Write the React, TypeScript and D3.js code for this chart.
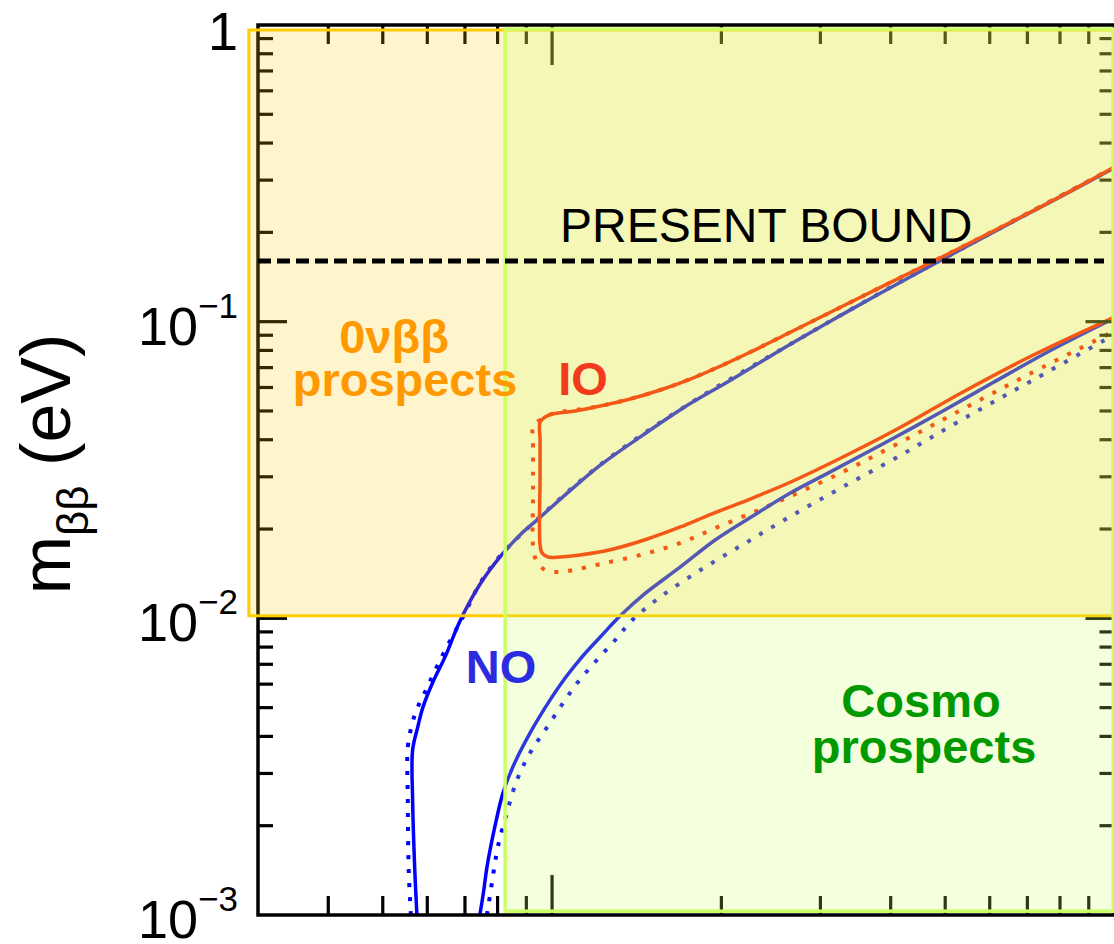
import * as d3 from "d3"

type Pt = [number, number]

// axis domains (x: sum of neutrino masses, y: m_bb), both in eV
const sumDomain: [number, number] = [0.03, 1]
const mbbDomain: [number, number] = [0.001, 1]
const presentBound = 0.16
const boundSpan: [number, number] = [0.03, 0.958]

// shaded prospect regions [xmin, xmax, ymin, ymax]
const bbProspects = [0.0289, 0.995, 0.0102, 0.962]
const cosmoProspects = [0.0825, 0.995, 0.00103, 0.969]

const yLabelValues = [1, 0.1, 0.01, 0.001]
const yLabelExps = ["", "−1", "−2", "−3"]

// normal ordering, solid (upper edge incl. left boundary)
const noUpperSolid: Pt[] = [
  [0.0575, 0.001], [0.057, 0.00142], [0.0565, 0.00244], [0.0565, 0.0036], [0.0577, 0.0043],
  [0.0589, 0.005], [0.0614, 0.0061], [0.0645, 0.0074], [0.0686, 0.0098], [0.0744, 0.013],
  [0.0808, 0.0161], [0.0877, 0.0191], [0.0952, 0.0219], [0.108, 0.0271], [0.122, 0.0329],
  [0.1435, 0.0409], [0.171, 0.0512], [0.208, 0.0636], [0.255, 0.0803], [0.313, 0.1005],
  [0.384, 0.125], [0.482, 0.158], [0.629, 0.207], [0.805, 0.265], [1.0, 0.33],
]
const noUpperDotted: Pt[] = [
  [0.0561, 0.001], [0.0556, 0.00142], [0.0554, 0.00244], [0.0554, 0.00368], [0.0565, 0.00447],
  [0.0577, 0.00502], [0.0599, 0.00582], [0.0626, 0.00696], [0.0664, 0.00865], [0.07, 0.0104],
  [0.0744, 0.0131], [0.0808, 0.0162], [0.0952, 0.022], [0.122, 0.033], [0.171, 0.0513],
  [0.255, 0.0804], [0.384, 0.1252], [0.629, 0.2075], [1.0, 0.3305],
]
const noLowerSolid: Pt[] = [
  [0.0744, 0.001], [0.0756, 0.00121], [0.0766, 0.00145], [0.0791, 0.00198], [0.0818, 0.00258],
  [0.0852, 0.00316], [0.0914, 0.00411], [0.0992, 0.00531], [0.1055, 0.00629], [0.1122, 0.00729],
  [0.1218, 0.00865], [0.1322, 0.0102], [0.1453, 0.012], [0.1691, 0.0149], [0.1952, 0.0184],
  [0.2263, 0.022], [0.2657, 0.0265], [0.3118, 0.0311], [0.3843, 0.0384], [0.4917, 0.0496],
  [0.6061, 0.0621], [0.7723, 0.0803], [1.0, 0.1029],
]
const noLowerDotted: Pt[] = [
  [0.0766, 0.001], [0.0778, 0.00121], [0.0788, 0.00142], [0.0801, 0.0017], [0.0831, 0.00221],
  [0.0866, 0.00285], [0.0914, 0.00352], [0.098, 0.0043], [0.1046, 0.00518], [0.1108, 0.00605],
  [0.1193, 0.00713], [0.1295, 0.00845], [0.1389, 0.00987], [0.1557, 0.0118], [0.1836, 0.01455],
  [0.2208, 0.01795], [0.2657, 0.0221], [0.3262, 0.0275], [0.4172, 0.0355], [0.5337, 0.0466],
  [0.7112, 0.0631], [1.0, 0.0905],
]

// inverted ordering: upper edge (left->right) and lower edge (from top-left corner down, then right)
const ioUpperSolid: Pt[] = [
  [0.0952, 0.0459], [0.0972, 0.0477], [0.1, 0.04885], [0.1099, 0.05001], [0.1218, 0.05196],
  [0.1377, 0.05487], [0.1557, 0.05885], [0.1762, 0.06405], [0.1993, 0.07087], [0.2254, 0.07901],
  [0.2657, 0.09228], [0.3236, 0.1112], [0.3843, 0.1308], [0.4817, 0.1614], [0.6289, 0.2085],
  [0.8045, 0.2653], [1.0, 0.3321],
]
const ioLowerSolid: Pt[] = [
  [0.0952, 0.04], [0.0952, 0.03], [0.0952, 0.0177], [0.096, 0.0166], [0.0984, 0.0161],
  [0.1033, 0.0161], [0.1122, 0.01635], [0.1285, 0.01713], [0.1477, 0.01851], [0.1691, 0.02032],
  [0.192, 0.02247], [0.2227, 0.02505], [0.2657, 0.02881], [0.3236, 0.03443], [0.4172, 0.04414],
  [0.5337, 0.0575], [0.7112, 0.0766], [1.0, 0.1037],
]
const ioUpperDotted: Pt[] = [
  [0.0925, 0.0448], [0.0952, 0.0466], [0.1, 0.04885], [0.1218, 0.05196], [0.1557, 0.05885],
  [0.1993, 0.07087], [0.2657, 0.09228], [0.3843, 0.1308], [0.6289, 0.2085], [1.0, 0.3321],
]
const ioLowerDotted: Pt[] = [
  [0.0925, 0.04], [0.0925, 0.03], [0.0925, 0.025], [0.0925, 0.0177], [0.0937, 0.0157],
  [0.0972, 0.01455], [0.1025, 0.01433], [0.109, 0.01455], [0.1218, 0.01524], [0.1435, 0.01635],
  [0.1691, 0.01795], [0.1968, 0.0203], [0.2377, 0.02355], [0.3236, 0.0307], [0.4172, 0.0393],
  [0.5337, 0.0504], [0.7112, 0.0671], [1.0, 0.093],
]

const FONT = "'Liberation Sans', Arial, Helvetica, sans-serif"

export default function App() {
  const width = 1114
  const height = 944
  const left = 258
  const right = 1114.5
  const top = 25
  const bottom = 915

  const x = d3.scaleLog().domain(sumDomain).range([left, right])
  const y = d3.scaleLog().domain(mbbDomain).range([bottom, top])
  const line = d3
    .line<Pt>()
    .x((d) => x(d[0]))
    .y((d) => y(d[1]))
    .curve(d3.curveCatmullRom.alpha(0.5))

  const isMajor = (v: number) => Math.abs(Math.log10(v) - Math.round(Math.log10(v))) < 1e-6
  const xTicks = x.ticks().filter((v) => v > sumDomain[0] * 1.001 && v < sumDomain[1] * 0.999)
  const yTicks = y.ticks().filter((v) => v > mbbDomain[0] * 1.001 && v < mbbDomain[1] * 0.999)

  const ioSolid = [...ioUpperSolid].reverse().concat(ioLowerSolid)
  const ioDotted = [...ioUpperDotted].reverse().concat(ioLowerDotted)

  const dotted = { fill: "none", strokeWidth: 4, strokeDasharray: "4 10" }
  const solid = { fill: "none", strokeWidth: 3.5 }

  const box = (b: number[]) => ({
    x: x(b[0]),
    y: y(b[3]),
    width: x(b[1]) - x(b[0]),
    height: y(b[2]) - y(b[3]),
  })

  return (
    <svg width={width} height={height} style={{ position: "absolute", left: 0, top: 0, background: "#fff" }} fontFamily={FONT}>
      <defs>
        <clipPath id="plot">
          <rect x={left} y={top} width={right - left} height={bottom - top} />
        </clipPath>
      </defs>

      {/* curves */}
      <g clipPath="url(#plot)">
        <path d={line(noUpperDotted) || ""} stroke="#0000ff" {...dotted} />
        <path d={line(noLowerDotted) || ""} stroke="#0000ff" {...dotted} />
        <path d={line(ioDotted) || ""} stroke="#ff0000" {...dotted} />
        <path d={line(noUpperSolid) || ""} stroke="#0000ff" {...solid} />
        <path d={line(noLowerSolid) || ""} stroke="#0000ff" {...solid} />
        <path d={line(ioSolid) || ""} stroke="#ff0000" {...solid} />
      </g>

      {/* ticks */}
      <g stroke="#000" strokeWidth={3.2}>
        {xTicks.map((v) => {
          const len = isMajor(v) ? 40 : 19
          return (
            <g key={"x" + v}>
              <line x1={x(v)} x2={x(v)} y1={bottom} y2={bottom - len} />
              <line x1={x(v)} x2={x(v)} y1={top} y2={top + len} />
            </g>
          )
        })}
        {yTicks.map((v) => {
          const len = isMajor(v) ? 29 : 15
          return (
            <g key={"y" + v}>
              <line x1={left} x2={left + len} y1={y(v)} y2={y(v)} />
              <line x1={right} x2={right - len} y1={y(v)} y2={y(v)} />
            </g>
          )
        })}
      </g>
      <rect x={left} y={top} width={right - left} height={bottom - top} fill="none" stroke="#000" strokeWidth={3.5} />

      {/* prospect regions */}
      <rect {...box(bbProspects)} fill="#ffcc00" fillOpacity={0.2} stroke="#ffcc00" strokeWidth={3} />
      <rect {...box(cosmoProspects)} fill="#ccff66" fillOpacity={0.22} stroke="#ccff66" strokeWidth={3.5} />

      {/* present bound */}
      <line
        x1={x(boundSpan[0])}
        x2={x(boundSpan[1])}
        y1={y(presentBound)}
        y2={y(presentBound)}
        stroke="#000"
        strokeWidth={5}
        strokeDasharray="13 6"
      />
      <text x={560} y={242} fontSize={48} fill="#000">PRESENT BOUND</text>

      {/* y tick labels */}
      {yLabelValues.map((v, i) => (
        <text key={"yl" + v} x={238} y={y(v) + (i === 0 ? 25 : 23)} textAnchor="end" fontSize={54} fill="#000">
          {i === 0 ? "1" : "10"}
          {yLabelExps[i] && (
            <tspan fontSize={35} dy={-27}>
              {yLabelExps[i]}
            </tspan>
          )}
        </text>
      ))}

      {/* y axis title */}
      <text transform="translate(70,464) rotate(-90)" textAnchor="middle" fontSize={70} fill="#000">
        m
        <tspan fontSize={44} dy={18}>ββ</tspan>
        <tspan dy={-18}> (eV)</tspan>
      </text>

      {/* labels */}
      <g fontWeight="bold" fontSize={47} textAnchor="middle">
        <text x={394} y={353} fill="#ff9900">0νββ</text>
        <text x={405} y={396} fill="#ff9900">prospects</text>
        <text x={583} y={395} fill="#f23a1d">IO</text>
        <text x={501} y={683} fill="#2b2be0">NO</text>
        <text x={921} y={717} fill="#009900">Cosmo</text>
        <text x={924} y={763} fill="#009900">prospects</text>
      </g>
    </svg>
  )
}
